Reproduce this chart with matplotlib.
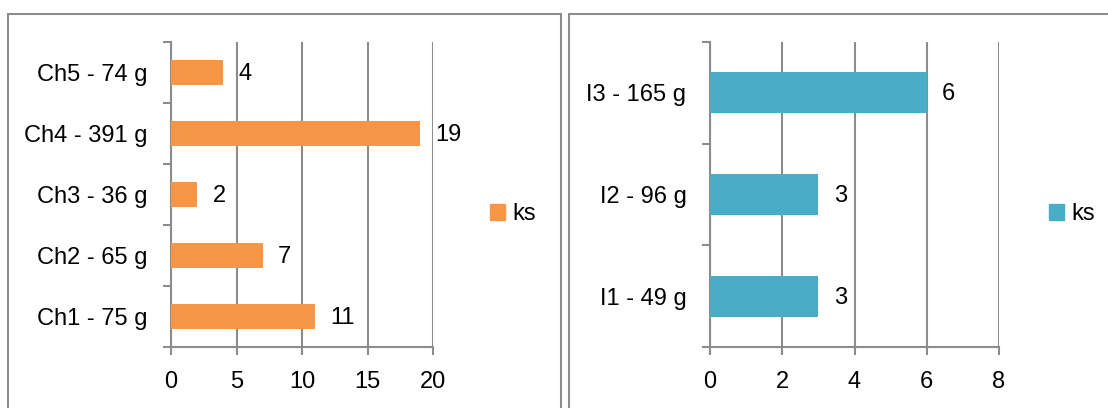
import matplotlib.pyplot as plt
from matplotlib.patches import Rectangle

# data
ch_labels = ['Ch1 - 75 g', 'Ch2 - 65 g', 'Ch3 - 36 g', 'Ch4 - 391 g', 'Ch5 - 74 g']
ch_counts = [11, 7, 2, 19, 4]
i_labels = ['I1 - 49 g', 'I2 - 96 g', 'I3 - 165 g']
i_counts = [3, 3, 6]
series_name = 'ks'

plt.rcParams['font.family'] = ['Liberation Sans', 'DejaVu Sans']
plt.rcParams['font.size'] = 17

W, H = 1108, 408
fig = plt.figure(figsize=(W / 100, H / 100), dpi=100)

grey = '#8c8c8c'


def bar_panel(rect, labels, counts, color, xmax, step, legend_x):
    ax = fig.add_axes(rect)
    n = len(labels)
    pos = list(range(n))
    ax.barh(pos, counts, height=0.4, color=color, zorder=3)
    ax.set_ylim(-0.5, n - 0.5)
    ax.set_xlim(0, xmax)
    ax.set_xticks(range(0, xmax + 1, step))

    # category boundaries carry the tick marks, centres carry the labels
    ax.set_yticks([p - 0.5 for p in range(n + 1)])
    ax.set_yticklabels([])
    ax.set_yticks(pos, minor=True)
    ax.set_yticklabels(labels, minor=True)
    ax.tick_params(axis='y', which='major', length=6, width=1.5, color=grey)
    ax.tick_params(axis='y', which='minor', length=0, pad=17)
    ax.tick_params(axis='x', length=6, width=1.5, color=grey, pad=11)

    ax.grid(axis='x', color=grey, linewidth=1.5, zorder=0)
    ax.set_axisbelow(True)
    for s in ['top', 'right']:
        ax.spines[s].set_visible(False)
    for s in ['left', 'bottom']:
        ax.spines[s].set_color(grey)
        ax.spines[s].set_linewidth(1.5)

    for p, v in zip(pos, counts):
        ax.annotate(str(v), (v, p), xytext=(11, -1), textcoords='offset points',
                    va='center', ha='left')

    ax.legend([Rectangle((0, 0), 1, 1, color=color)], [series_name],
              loc='center left', bbox_to_anchor=(legend_x, 1 - 214 / H),
              bbox_transform=fig.transFigure, frameon=False,
              handlelength=0.65, handleheight=0.65, handletextpad=0.3,
              borderpad=0, borderaxespad=0)
    return ax


top = 1 - 42 / H
bottom = 1 - 347 / H
bar_panel([171 / W, bottom, (433 - 171) / W, top - bottom],
          ch_labels, ch_counts, '#f79646', 20, 5, 490 / W)
bar_panel([710 / W, bottom, (999 - 710) / W, top - bottom],
          i_labels, i_counts, '#4bacc6', 8, 2, 1049 / W)

# chart frames
fig.patches.append(Rectangle((8 / W, -0.1), (561 - 8) / W, 0.1 + 1 - 13.5 / H,
                             transform=fig.transFigure, fill=False,
                             edgecolor=grey, linewidth=1.5))
fig.patches.append(Rectangle((569 / W, -0.1), 0.5, 0.1 + 1 - 13.5 / H,
                             transform=fig.transFigure, fill=False,
                             edgecolor=grey, linewidth=1.5))

plt.savefig('out.png', dpi=100)
plt.close()
